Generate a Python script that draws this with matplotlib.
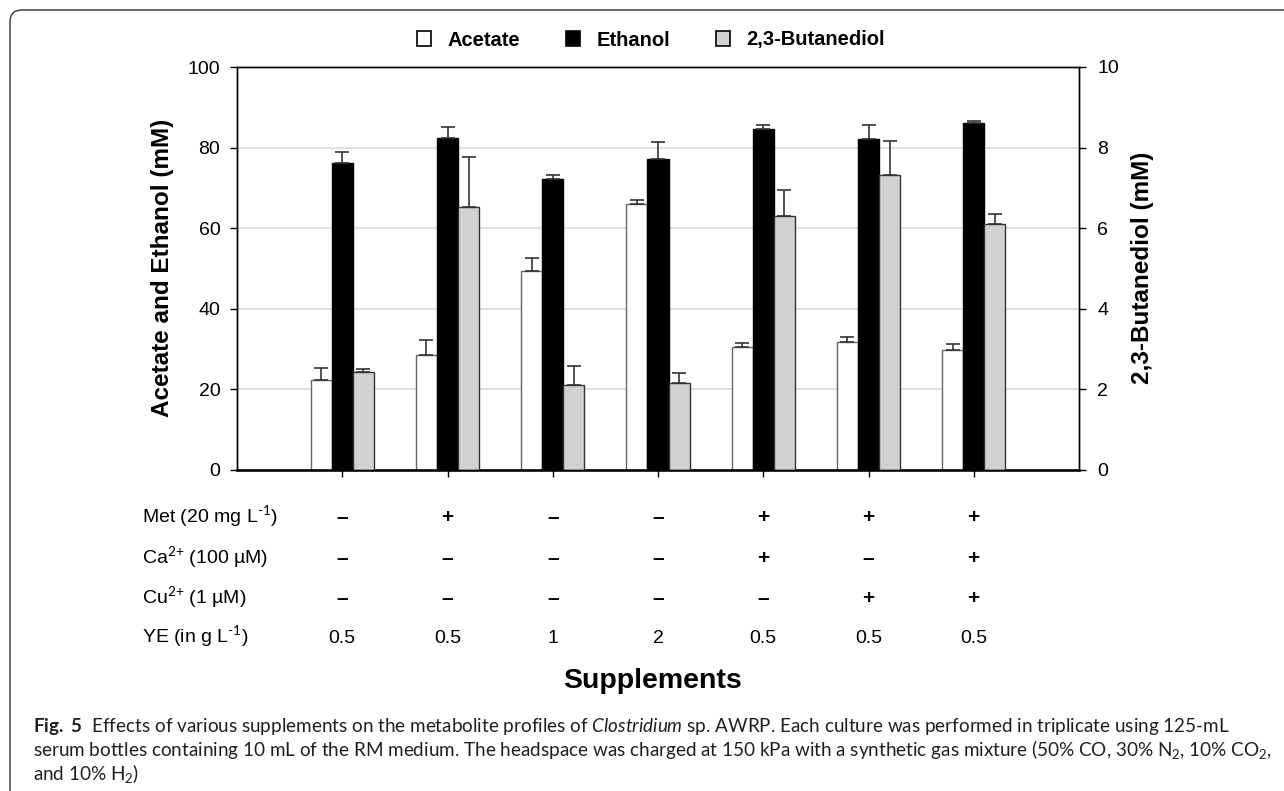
"""
Metabolite profiles of Clostridium sp. AWRP under various supplements.
Grouped bars with a secondary axis for 2,3-butanediol.
"""

import matplotlib
matplotlib.use("Agg")
import matplotlib.pyplot as plt
import matplotlib.transforms as mtransforms
from matplotlib.patches import Patch, FancyBboxPatch
import numpy as np

# ---- data ----
acetate = [22.4, 28.6, 49.4, 66.1, 30.6, 31.8, 29.9]
acetate_err = [2.9, 3.6, 3.2, 0.8, 1.0, 1.1, 1.3]
ethanol = [76.1, 82.4, 72.2, 77.2, 84.6, 82.1, 86.2]
ethanol_err = [2.9, 2.6, 1.1, 4.1, 0.9, 3.6, 0.3]
butanediol = [2.43, 6.52, 2.11, 2.17, 6.31, 7.31, 6.11]
butanediol_err = [0.08, 1.24, 0.47, 0.24, 0.63, 0.85, 0.25]

row_labels = [r"Met (20 mg L$^{\text{-1}}$)", r"Ca$^{\text{2+}}$ (100 µM)",
              r"Cu$^{\text{2+}}$ (1 µM)", r"YE (in g L$^{\text{-1}}$)"]
met = ["–", "+", "–", "–", "+", "+", "+"]
ca = ["–", "–", "–", "–", "+", "–", "+"]
cu = ["–", "–", "–", "–", "–", "+", "+"]
ye = ["0.5", "0.5", "1", "2", "0.5", "0.5", "0.5"]

caption = [
    r"$\mathbf{Fig.\ 5}$  Effects of various supplements on the metabolite profiles of "
    r"$\mathit{Clostridium}$ sp. AWRP. Each culture was performed in triplicate using 125-mL",
    "serum bottles containing 10 mL of the RM medium. The headspace was charged at 150 kPa "
    "with a synthetic gas mixture (50% CO, 30% N$_2$, 10% CO$_2$,",
    "and 10% H$_2$)",
]

plt.rcParams["font.family"] = ["Liberation Sans", "DejaVu Sans"]
plt.rcParams["mathtext.default"] = "regular"
plt.rcParams["mathtext.fontset"] = "custom"
plt.rcParams["mathtext.rm"] = "Lato"
plt.rcParams["mathtext.it"] = "Lato:italic"
plt.rcParams["mathtext.bf"] = "Lato:bold"

W, H = 1284, 791
fig = plt.figure(figsize=(W / 100, H / 100), dpi=100)


def fx(px):
    return px / W


def fy(py):
    return 1 - py / H


ax = fig.add_axes([fx(237), fy(470), fx(1079) - fx(237), fy(67) - fy(470)])
ax2 = ax.twinx()

x = np.arange(1, len(acetate) + 1)
w = 0.2
ekw = dict(ecolor="#333333", elinewidth=1.2, capsize=5, capthick=1.2)

ax.bar(x - w, acetate, w, color="white", edgecolor="#666666", linewidth=1.0,
       yerr=[np.zeros(len(x)), acetate_err], error_kw=ekw, zorder=2)
ax.bar(x, ethanol, w, color="black", edgecolor="black", linewidth=1.0,
       yerr=[np.zeros(len(x)), ethanol_err], error_kw=ekw, zorder=2)
ax2.bar(x + w, butanediol, w, color="#d0d2d1", edgecolor="#333333", linewidth=1.0,
        yerr=[np.zeros(len(x)), butanediol_err], error_kw=ekw, zorder=2)

ax.set_xlim(0, 8)
ax.set_ylim(0, 100)
ax2.set_ylim(0, 10)
ax.set_yticks(np.arange(0, 101, 20))
ax2.set_yticks(np.arange(0, 11, 2))
ax.set_xticks(x)
ax.set_xticklabels([])

ax.set_axisbelow(True)
ax.yaxis.grid(True, color="#d9d9d9", linewidth=1.2)
for g in ax.yaxis.get_gridlines()[-1:]:
    g.set_visible(False)

ax.tick_params(axis="y", labelsize=14, length=5, width=1, pad=7, direction="out")
ax2.tick_params(axis="y", labelsize=14, length=5, width=1, pad=8, direction="out")
ax.tick_params(axis="x", length=5, width=1, direction="out")
for a in (ax, ax2):
    for s in a.spines.values():
        s.set_linewidth(1.0)
ax.spines["bottom"].set_linewidth(1.8)

fig.text(fx(163), fy(268), "Acetate and Ethanol (mM)", rotation=90, ha="center",
         va="center", fontsize=17.5, fontweight="bold")
fig.text(fx(1143), fy(268), "2,3-Butanediol (mM)", rotation=90, ha="center",
         va="center", fontsize=17.5, fontweight="bold")

# legend
handles = [Patch(facecolor="white", edgecolor="black", linewidth=1.2, label="Acetate"),
           Patch(facecolor="black", edgecolor="black", linewidth=1.2, label="Ethanol"),
           Patch(facecolor="#d0d2d1", edgecolor="black", linewidth=1.2, label="2,3-Butanediol")]
fig.legend(handles=handles, loc="center", bbox_to_anchor=(fx(651), fy(40)), ncol=3,
           frameon=False, prop={"weight": "bold", "size": 14.5}, handlelength=0.7,
           handleheight=0.7, handletextpad=0.8, columnspacing=2.3)

# supplement table under the axis
blend = mtransforms.blended_transform_factory(ax.transData, fig.transFigure)
row_y = [523, 564, 604, 643]
for label, vals, py in zip(row_labels, [met, ca, cu, ye], row_y):
    fig.text(fx(142), fy(py), label, ha="left", va="baseline", fontsize=14)
    for xi, v in zip(x, vals):
        bold = v in ("+", "–")
        ax.text(xi, fy(py), v, transform=blend, ha="center", va="baseline",
                fontsize=15 if bold else 14, fontweight="bold" if bold else "normal")

fig.text(fx(653), fy(688), "Supplements", ha="center", va="baseline",
         fontsize=20.5, fontweight="bold")

# caption
cap_texts = []
for line, py in zip(caption, [732, 756, 780]):
    cap_texts.append(fig.text(fx(33), fy(py), line, ha="left", va="baseline",
                              fontsize=13, family="Lato", color="#231f20"))
renderer = fig.canvas.get_renderer()
width = cap_texts[1].get_window_extent(renderer).width
scale = (1270 - 33) / width
for t in cap_texts:
    t.set_fontsize(13 * scale)

# rounded frame around figure + caption (open at right/bottom)
frame = FancyBboxPatch((10, -100), 1500, H - 10 + 100,
                       boxstyle="round,pad=0,rounding_size=12",
                       transform=mtransforms.IdentityTransform(),
                       facecolor="none", edgecolor="#333333", linewidth=1.0)
fig.add_artist(frame)

fig.savefig("out.png", dpi=100)
